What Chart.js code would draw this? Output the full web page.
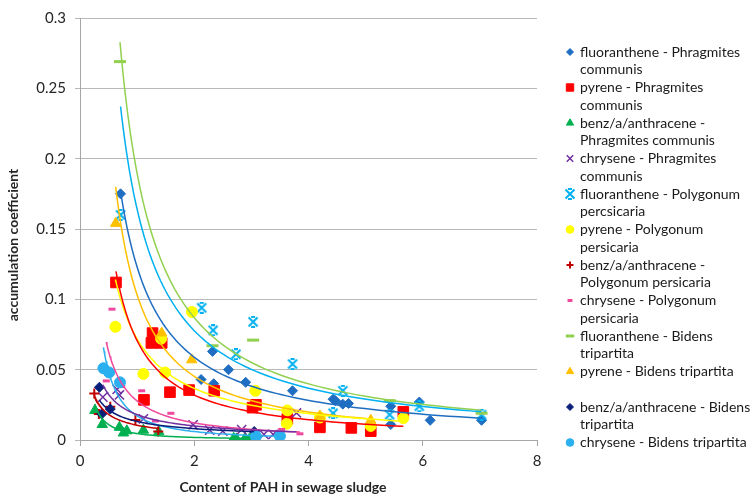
<!DOCTYPE html>
<html>
<head>
<meta charset="utf-8">
<script src="https://cdn.jsdelivr.net/npm/chart.js@4.4.0/dist/chart.umd.min.js"></script>
<style>
  html, body { margin: 0; padding: 0; background: #fff; }
  #wrap { width: 753px; height: 500px; }
</style>
</head>
<body>
<div id="wrap"><canvas id="chart" width="753" height="500"></canvas></div>
<script>
// series names ('\n' marks where the legend wraps)
const seriesNames = [
  'fluoranthene - Phragmites\ncommunis',
  'pyrene - Phragmites\ncommunis',
  'benz/a/anthracene -\nPhragmites communis',
  'chrysene - Phragmites\ncommunis',
  'fluoranthene - Polygonum\npercsicaria',
  'pyrene - Polygonum\npersicaria',
  'benz/a/anthracene -\nPolygonum persicaria',
  'chrysene - Polygonum\npersicaria',
  'fluoranthene - Bidens\ntripartita',
  'pyrene - Bidens tripartita',
  'benz/a/anthracene - Bidens\ntripartita',
  'chrysene - Bidens tripartita'
];

// values: content of PAH (x) and accumulation coefficient (y)
const fluoPhragX = [0.71, 2.12, 2.32, 2.34, 2.6, 2.9, 3.72, 4.43, 4.47, 4.6, 4.7, 5.44, 5.94, 5.44, 6.13, 7.03];
const fluoPhragY = [0.175, 0.043, 0.063, 0.040, 0.050, 0.041, 0.035, 0.029, 0.028, 0.0255, 0.026, 0.024, 0.027, 0.011, 0.014, 0.014];
const pyrPhragX = [0.63, 1.12, 1.25, 1.27, 1.43, 1.575, 1.91, 2.35, 3.02, 3.08, 3.63, 4.2, 4.75, 5.09, 5.66];
const pyrPhragY = [0.112, 0.0285, 0.069, 0.076, 0.069, 0.034, 0.0355, 0.035, 0.023, 0.025, 0.015, 0.009, 0.0086, 0.0063, 0.020];
const benzPhragX = [0.26, 0.39, 0.69, 0.76, 0.82, 1.11, 1.38, 2.69, 2.74, 2.89, 2.97];
const benzPhragY = [0.021, 0.011, 0.009, 0.005, 0.0065, 0.007, 0.0058, 0.0012, 0.0008, 0.0012, 0.0008];
const chryPhragX = [0.40, 0.65, 0.69, 1.11, 1.98, 2.27, 2.5, 2.83, 3.22, 3.38, 3.79];
const chryPhragY = [0.0305, 0.036, 0.032, 0.015, 0.0108, 0.007, 0.0063, 0.0074, 0.004, 0.004, 0.0192];
const fluoPolyX = [0.71, 2.13, 2.33, 2.73, 3.03, 3.72, 4.43, 4.6, 5.42, 5.94, 7.03];
const fluoPolyY = [0.160, 0.094, 0.078, 0.061, 0.084, 0.054, 0.019, 0.035, 0.018, 0.024, 0.018];
const pyrPolyX = [0.62, 1.11, 1.42, 1.49, 1.96, 3.07, 3.63, 3.62, 4.2, 5.09, 5.66];
const pyrPolyY = [0.0805, 0.047, 0.072, 0.048, 0.091, 0.035, 0.021, 0.0116, 0.016, 0.010, 0.0155];
const benzPolyX = [0.25, 0.33, 0.53, 0.97, 1.37];
const benzPolyY = [0.033, 0.0185, 0.0236, 0.0143, 0.006];
const chryPolyX = [0.46, 0.56, 0.73, 1.08, 1.32, 1.59, 3.53, 3.85];
const chryPolyY = [0.042, 0.093, 0.038, 0.035, 0.0135, 0.019, 0.0075, 0.0044];
const fluoBidX = [0.70, 2.32, 3.03, 5.42, 7.03];
const fluoBidY = [0.269, 0.067, 0.071, 0.028, 0.019];
const pyrBidX = [0.625, 1.43, 1.955, 4.2, 5.09];
const pyrBidY = [0.154, 0.076, 0.057, 0.017, 0.014];
const benzBidX = [0.34, 0.38, 0.53, 3.05];
const benzBidY = [0.0375, 0.0185, 0.022, 0.006];
const chryBidX = [0.41, 0.51, 0.70, 3.08, 3.5];
const chryBidY = [0.051, 0.048, 0.041, 0.0026, 0.0028];

const xTicks = [0, 2, 4, 6, 8];
const yTicks = [0, 0.05, 0.1, 0.15, 0.2, 0.25, 0.3];

const allX = [fluoPhragX, pyrPhragX, benzPhragX, chryPhragX, fluoPolyX, pyrPolyX, benzPolyX, chryPolyX, fluoBidX, pyrBidX, benzBidX, chryBidX];
const allY = [fluoPhragY, pyrPhragY, benzPhragY, chryPhragY, fluoPolyY, pyrPolyY, benzPolyY, chryPolyY, fluoBidY, pyrBidY, benzBidY, chryBidY];

// excel-like star marker: an x with short caps
function starMarker(color) {
  const c = document.createElement('canvas');
  c.width = 12; c.height = 12;
  const g = c.getContext('2d');
  g.strokeStyle = color;
  g.lineWidth = 2;
  g.beginPath();
  g.moveTo(1.5, 1.5); g.lineTo(10.5, 10.5);
  g.moveTo(10.5, 1.5); g.lineTo(1.5, 10.5);
  g.moveTo(4, 1); g.lineTo(8, 1);
  g.moveTo(4, 11); g.lineTo(8, 11);
  g.stroke();
  return c;
}

const styles = [
  { color: '#1F6EC2', point: 'rectRot', r: 5, bw: 1 },
  { color: '#FF0000', point: 'rect', r: 7.5, bw: 1 },
  { color: '#00B050', point: 'triangle', r: 6, bw: 1 },
  { color: '#7030A0', point: 'crossRot', r: 6.5, bw: 1.5 },
  { color: '#00B0F0', point: starMarker('#00B0F0'), r: 6, bw: 1 },
  { color: '#FFFF00', point: 'circle', r: 5.5, bw: 1 },
  { color: '#C00000', point: 'cross', r: 5, bw: 2 },
  { color: '#F0489C', point: 'line', r: 3.5, bw: 3 },
  { color: '#92D050', point: 'line', r: 6, bw: 3 },
  { color: '#FFC000', point: 'triangle', r: 6, bw: 1 },
  { color: '#0A1F7A', point: 'rectRot', r: 5, bw: 1 },
  { color: '#2AB0EE', point: 'circle', r: 5.5, bw: 1 }
];

// power trendline y = a*x^b fitted to the points (like the spreadsheet's trendline)
function powerFit(xs, ys) {
  let n = 0, sx = 0, sy = 0, sxx = 0, sxy = 0;
  xs.forEach((x, i) => {
    if (x <= 0 || ys[i] <= 0) return;
    const lx = Math.log(x), ly = Math.log(ys[i]);
    n++; sx += lx; sy += ly; sxx += lx * lx; sxy += lx * ly;
  });
  const b = (n * sxy - sx * sy) / (n * sxx - sx * sx);
  const a = Math.exp((sy - b * sx) / n);
  return { a, b };
}

function trendPoints(xs, ys) {
  const { a, b } = powerFit(xs, ys);
  const lo = Math.min(...xs), hi = Math.max(...xs);
  const pts = [];
  const steps = 80;
  for (let k = 0; k <= steps; k++) {
    const x = lo * Math.pow(hi / lo, k / steps);
    pts.push({ x, y: a * Math.pow(x, b) });
  }
  return pts;
}

const datasets = [];
seriesNames.forEach((name, i) => {
  const s = styles[i];
  datasets.push({
    label: name.replace('\n', ' '),
    data: allX[i].map((x, j) => ({ x, y: allY[i][j] })),
    pointStyle: s.point,
    pointRadius: s.r,
    pointHoverRadius: s.r,
    pointBorderWidth: s.bw,
    backgroundColor: s.color,
    borderColor: s.color,
    showLine: false,
    order: 30 - i
  });
});
seriesNames.forEach((name, i) => {
  datasets.push({
    label: 'trend ' + i,
    data: trendPoints(allX[i], allY[i]),
    showLine: true,
    borderColor: styles[i].color,
    borderWidth: 1.5,
    pointRadius: 0,
    pointHoverRadius: 0,
    fill: false,
    tension: 0,
    order: 5
  });
});

const overlay = {
  id: 'overlay',
  afterDraw(chart) {
    const ctx = chart.ctx;
    ctx.save();
    // axis titles
    ctx.fillStyle = '#262626';
    ctx.font = 'bold 14px Lato, "Liberation Sans", sans-serif';
    ctx.textAlign = 'center';
    ctx.textBaseline = 'middle';
    ctx.fillText('Content of PAH in sewage sludge', 283, 487);
    ctx.translate(13, 245);
    ctx.rotate(-Math.PI / 2);
    ctx.fillText('accumulation coefficient', 0, 0);
    ctx.restore();

    // legend
    ctx.save();
    ctx.font = '14px Lato, "Liberation Sans", sans-serif';
    ctx.textAlign = 'left';
    ctx.textBaseline = 'middle';
    seriesNames.forEach((name, i) => {
      const s = styles[i];
      const y0 = 52 + 35.5 * i;
      ctx.fillStyle = s.color;
      ctx.strokeStyle = s.color;
      ctx.lineWidth = s.bw;
      Chart.helpers.drawPoint(ctx, { pointStyle: s.point, radius: s.r * 0.7, borderWidth: s.bw, rotation: 0 }, 570, y0);
      ctx.fillStyle = '#1a1a1a';
      name.split('\n').forEach((line, k) => ctx.fillText(line, 580, y0 + 17.75 * k));
    });
    ctx.restore();
  }
};

new Chart(document.getElementById('chart'), {
  type: 'scatter',
  data: { datasets },
  options: {
    responsive: false,
    animation: false,
    devicePixelRatio: 1,
    layout: { padding: { left: 0, right: 216, top: 8, bottom: 0 } },
    plugins: { legend: { display: false }, tooltip: { enabled: false } },
    scales: {
      x: {
        type: 'linear',
        min: xTicks[0],
        max: xTicks[xTicks.length - 1],
        afterBuildTicks: (scale) => { scale.ticks = xTicks.map(v => ({ value: v })); },
        afterFit: (scale) => { scale.height = 60; },
        grid: { drawOnChartArea: false, drawTicks: true, tickLength: 6, color: '#A6A6A6' },
        border: { color: '#A6A6A6' },
        ticks: { color: '#262626', font: { family: 'Lato, "Liberation Sans", sans-serif', size: 15 }, padding: 6, maxRotation: 0 }
      },
      y: {
        type: 'linear',
        min: yTicks[0],
        max: yTicks[yTicks.length - 1],
        afterBuildTicks: (scale) => { scale.ticks = yTicks.map(v => ({ value: v })); },
        afterFit: (scale) => { scale.width = 80; },
        grid: { color: '#B8B8B8', tickLength: 5 },
        border: { color: '#A6A6A6' },
        ticks: {
          color: '#262626',
          font: { family: 'Lato, "Liberation Sans", sans-serif', size: 15 },
          padding: 9,
          callback: (v) => String(Math.round(v * 100) / 100)
        }
      }
    }
  },
  plugins: [overlay]
});
</script>
</body>
</html>
